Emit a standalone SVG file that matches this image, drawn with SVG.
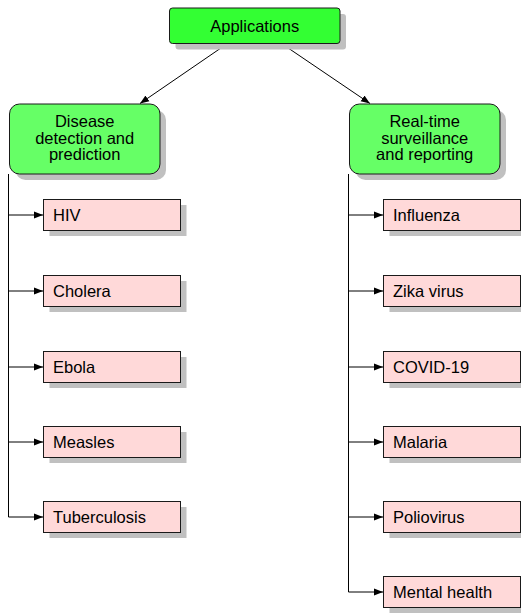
<svg xmlns="http://www.w3.org/2000/svg" width="521" height="614" viewBox="0 0 521 614">
<defs>
<style>
text{font-family:"Liberation Sans",Arial,sans-serif;font-size:16.5px;fill:#000}
.c{text-anchor:middle}
.sh{fill:#c0c0c0}
.top{fill:#33ff33;stroke:#1a1a1a;stroke-width:1}
.grn{fill:#66ff66;stroke:#1a1a1a;stroke-width:1}
.pk{fill:#ffd9d9;stroke:#1a1a1a;stroke-width:1}
.ln{fill:none;stroke:#000;stroke-width:1}
</style>
<marker id="ah" markerUnits="userSpaceOnUse" markerWidth="10" markerHeight="8" refX="9" refY="4" orient="auto">
<path d="M0,0.5 L9,4 L0,7.5 Z" fill="#000"/>
</marker>
</defs>
<g id="connectors">
<line class="ln" x1="227.5" y1="43.5" x2="140" y2="103.5" marker-end="url(#ah)"/>
<line class="ln" x1="281.5" y1="43.5" x2="370" y2="103.5" marker-end="url(#ah)"/>
<path class="ln" d="M8.5,174 V517"/>
<path class="ln" d="M8.5,215 H43" marker-end="url(#ah)"/>
<path class="ln" d="M8.5,291 H43" marker-end="url(#ah)"/>
<path class="ln" d="M8.5,367 H43" marker-end="url(#ah)"/>
<path class="ln" d="M8.5,442 H43" marker-end="url(#ah)"/>
<path class="ln" d="M8.5,517 H43" marker-end="url(#ah)"/>
<path class="ln" d="M348.5,174 V592"/>
<path class="ln" d="M348.5,215 H383" marker-end="url(#ah)"/>
<path class="ln" d="M348.5,291 H383" marker-end="url(#ah)"/>
<path class="ln" d="M348.5,367 H383" marker-end="url(#ah)"/>
<path class="ln" d="M348.5,442 H383" marker-end="url(#ah)"/>
<path class="ln" d="M348.5,517 H383" marker-end="url(#ah)"/>
<path class="ln" d="M348.5,592 H383" marker-end="url(#ah)"/>
</g>
<g id="applications">
<rect class="sh" x="175.5" y="14" width="170.5" height="35.5" rx="3"/>
<rect class="top" x="169.5" y="8" width="170.5" height="35.5" rx="3"/>
<text class="c" x="254.7" y="31.5">Applications</text>
</g>
<g id="disease">
<rect class="sh" x="15.5" y="110" width="150.5" height="70" rx="10"/>
<rect class="grn" x="9.5" y="104" width="150.5" height="70" rx="10"/>
<text class="c" x="84.7" y="127">Disease</text>
<text class="c" x="84.7" y="143.5">detection and</text>
<text class="c" x="84.7" y="160">prediction</text>
</g>
<g id="realtime">
<rect class="sh" x="355.5" y="110" width="150.5" height="70" rx="10"/>
<rect class="grn" x="349.5" y="104" width="150.5" height="70" rx="10"/>
<text class="c" x="424.7" y="127">Real-time</text>
<text class="c" x="424.7" y="143.5">surveillance</text>
<text class="c" x="424.7" y="160">and reporting</text>
</g>
<g id="hiv">
<rect class="sh" x="49.5" y="205" width="137" height="31"/>
<rect class="pk" x="43.5" y="199.5" width="137" height="31"/>
<text x="53" y="221">HIV</text>
</g>
<g id="cholera">
<rect class="sh" x="49.5" y="281" width="137" height="31"/>
<rect class="pk" x="43.5" y="275.5" width="137" height="31"/>
<text x="53" y="297">Cholera</text>
</g>
<g id="ebola">
<rect class="sh" x="49.5" y="357" width="137" height="31"/>
<rect class="pk" x="43.5" y="351.5" width="137" height="31"/>
<text x="53" y="373">Ebola</text>
</g>
<g id="measles">
<rect class="sh" x="49.5" y="432" width="137" height="31"/>
<rect class="pk" x="43.5" y="426.5" width="137" height="31"/>
<text x="53" y="448">Measles</text>
</g>
<g id="tuberculosis">
<rect class="sh" x="49.5" y="507" width="137" height="31"/>
<rect class="pk" x="43.5" y="501.5" width="137" height="31"/>
<text x="53" y="523">Tuberculosis</text>
</g>
<g id="influenza">
<rect class="sh" x="389.5" y="205" width="137" height="31"/>
<rect class="pk" x="383.5" y="199.5" width="137" height="31"/>
<text x="393" y="221">Influenza</text>
</g>
<g id="zika">
<rect class="sh" x="389.5" y="281" width="137" height="31"/>
<rect class="pk" x="383.5" y="275.5" width="137" height="31"/>
<text x="393" y="297">Zika virus</text>
</g>
<g id="covid">
<rect class="sh" x="389.5" y="357" width="137" height="31"/>
<rect class="pk" x="383.5" y="351.5" width="137" height="31"/>
<text x="393" y="373">COVID-19</text>
</g>
<g id="malaria">
<rect class="sh" x="389.5" y="432" width="137" height="31"/>
<rect class="pk" x="383.5" y="426.5" width="137" height="31"/>
<text x="393" y="448">Malaria</text>
</g>
<g id="poliovirus">
<rect class="sh" x="389.5" y="507" width="137" height="31"/>
<rect class="pk" x="383.5" y="501.5" width="137" height="31"/>
<text x="393" y="523">Poliovirus</text>
</g>
<g id="mental">
<rect class="sh" x="389.5" y="582" width="137" height="31"/>
<rect class="pk" x="383.5" y="576.5" width="137" height="31"/>
<text x="393" y="598">Mental health</text>
</g>
</svg>
